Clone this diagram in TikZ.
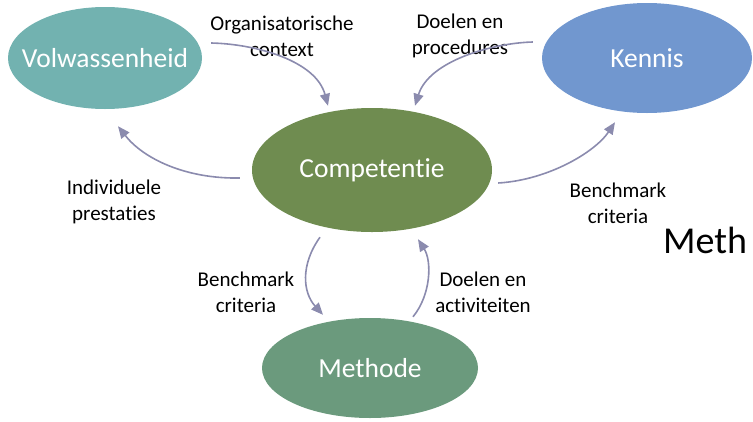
\documentclass[tikz,border=0pt]{standalone}
\usepackage{fontspec}
\setmainfont[RawFeature={-liga;-clig;-dlig}]{Carlito}
\usetikzlibrary{shapes.geometric,arrows.meta,calc}
\definecolor{volc}{RGB}{114,178,176}
\definecolor{kenc}{RGB}{113,151,207}
\definecolor{compc}{RGB}{111,140,80}
\definecolor{methc}{RGB}{107,154,125}
\definecolor{arrc}{RGB}{139,139,174}
\tikzset{
  ell/.style={ellipse, draw=none, inner sep=0pt},
  elltext/.style={text=white, font=\fontsize{27.5}{32}\selectfont},
  lbl/.style={align=center, inner sep=0pt, font=\fontsize{21}{26}\selectfont, text=black},
  conn/.style={draw=arrc, line width=1.6pt, -{Triangle[length=12pt,width=10pt]}}
}
\begin{document}
\begin{tikzpicture}[x=1pt,y=-1pt]
\useasboundingbox (0,0) rectangle (753,421);
\node[ell, fill=volc, minimum width=194pt, minimum height=102pt, label={[elltext]center:Volwassenheid}] (vol) at (105,58) {};
\node[ell, fill=kenc, minimum width=210pt, minimum height=110pt, label={[elltext]center:Kennis}] (ken) at (647,58) {};
\node[ell, fill=compc, minimum width=240pt, minimum height=124pt, label={[elltext]center:Competentie}] (comp) at (372,170) {};
\node[ell, fill=methc, minimum width=216pt, minimum height=100pt, label={[elltext]center:Methode}] (meth) at (370,368) {};

\node[lbl] (l1) at (282,36) {Organisatorische\\context};
\node[lbl] (l2) at (460,36) {Doelen en\\procedures};
\node[lbl] (l3) at (114,202) {Individuele\\prestaties};
\node[lbl] (l4) at (618,203) {Benchmark\\criteria};
\node[lbl] (l5) at (246,292) {Benchmark\\criteria};
\node[lbl] (l6) at (483,292) {Doelen en\\activiteiten};
\node[anchor=west, inner sep=0pt, font=\fontsize{38}{44}\selectfont] (meth2) at (663,240) {Meth};

\coordinate (a1s) at ($(vol.east)+(9,-15)$);
\coordinate (a1e) at ($(comp.north)+(-44,-2)$);
\coordinate (a2s) at ($(ken.west)+(-9,-16)$);
\coordinate (a2e) at ($(comp.north)+(43,-2)$);
\coordinate (a3s) at ($(comp.west)+(-12,8)$);
\coordinate (a3e) at ($(vol.south)+(13,17)$);
\coordinate (a4s) at ($(comp.east)+(6,13)$);
\coordinate (a4e) at ($(ken.south)+(-32,9)$);
\coordinate (a5s) at ($(comp.south)+(-52,5)$);
\coordinate (a5e) at ($(meth.north)+(-47,-3)$);
\coordinate (a6s) at ($(meth.north)+(43,-1)$);
\coordinate (a6e) at ($(comp.south)+(46,7)$);

\draw[conn] (a1s) .. controls ($(a1s)+(45,1)$) and ($(a1e)+(-12,-45)$) .. (a1e);
\draw[conn] (a2s) .. controls ($(a2s)+(-40,1)$) and ($(a2e)+(14,-45)$) .. (a2e);
\draw[conn] (a3s) .. controls ($(a3s)+(-55,1)$) and ($(a3e)+(25,32)$) .. (a3e);
\draw[conn] (a4s) .. controls ($(a4s)+(50,-3)$) and ($(a4e)+(-20,30)$) .. (a4e);
\draw[conn] (a5s) .. controls ($(a5s)+(-20,28)$) and ($(a5e)+(-20,-22)$) .. (a5e);
\draw[conn] (a6s) .. controls ($(a6s)+(18,-22)$) and ($(a6e)+(14,22)$) .. (a6e);
\end{tikzpicture}
\end{document}
